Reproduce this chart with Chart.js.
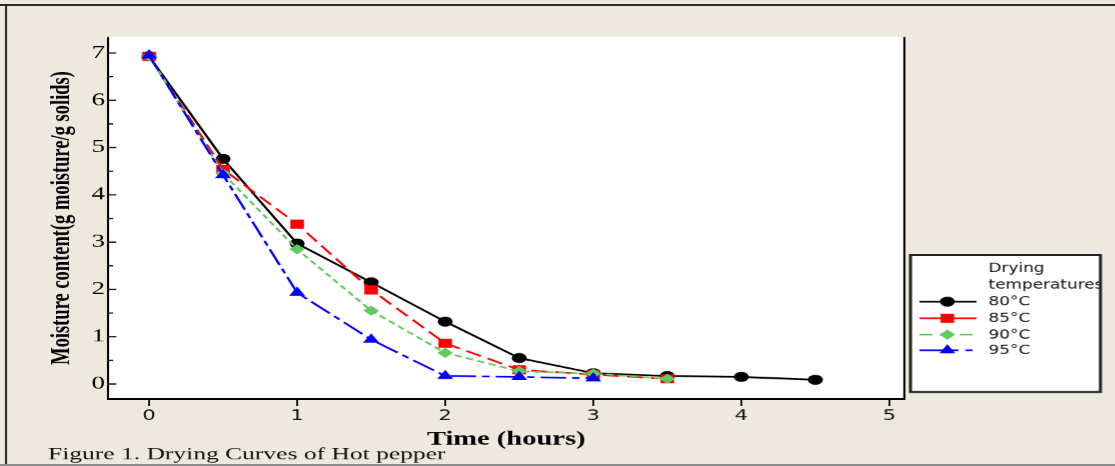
<!DOCTYPE html>
<html><head><meta charset="utf-8">
<script src="https://cdn.jsdelivr.net/npm/chart.js@4.4.1/dist/chart.umd.min.js"></script>
<style>
html,body{margin:0;padding:0;background:#EDE9DF;overflow:hidden;width:1115px;height:466px;}
#wrap{position:absolute;left:0;top:0;width:743.333px;height:466px;transform:scaleX(1.5);transform-origin:0 0;}
</style></head><body>
<div id="wrap"><canvas id="c"></canvas></div>
<script>
// ---- data ----
const times = [0, 0.5, 1, 1.5, 2, 2.5, 3, 3.5, 4, 4.5];
const seriesNames = ['80°C', '85°C', '90°C', '95°C'];
const mc80 = [6.93, 4.76, 2.97, 2.15, 1.32, 0.55, 0.23, 0.17, 0.15, 0.09];
const mc85 = [6.93, 4.54, 3.38, 1.99, 0.86, 0.30, 0.20, 0.11];
const mc90 = [6.93, 4.45, 2.85, 1.55, 0.66, 0.27, 0.22, 0.11];
const mc95 = [6.95, 4.42, 1.93, 0.94, 0.17, 0.15, 0.12];
const xTicks = [0, 1, 2, 3, 4, 5];
const yTicks = [0, 1, 2, 3, 4, 5, 6, 7];
const yMinorTicks = [0.5, 1.5, 2.5, 3.5, 4.5, 5.5, 6.5];
const legendTitle = ['Drying', 'temperatures'];
const captionText = 'Figure 1. Drying Curves of Hot pepper';
const xTitle = 'Time (hours)';
const yTitle = 'Moisture content(g moisture/g solids)';

// ---- styles ----
const styles = [
  {color:'#000000', style:'circle',   radius:5,   dash:[],          legendDash:[],                 order:4},
  {color:'#FF0000', style:'rect',     radius:6.4, dash:[11,5],      legendDash:[],                 order:3},
  {color:'#5FCB5F', style:'rectRot',  radius:5.2, dash:[5,3],       legendDash:[8.7,4.7],          order:2},
  {color:'#0000FF', style:'triangle', radius:6.2, dash:[17,4,5,4],  legendDash:[26,4.7,4.7,10],    order:1}
];
const seriesValues = [mc80, mc85, mc90, mc95];

const datasets = seriesValues.map((vals, k) => ({
  label: seriesNames[k],
  data: vals.map((v, i) => ({x: times[i], y: v})),
  showLine: true,
  borderColor: styles[k].color,
  backgroundColor: styles[k].color,
  borderWidth: 1.7,
  borderDash: styles[k].dash,
  pointStyle: styles[k].style,
  pointRadius: styles[k].radius,
  pointHoverRadius: styles[k].radius,
  pointBorderWidth: 0,
  pointBackgroundColor: styles[k].color,
  order: styles[k].order,
  tension: 0
}));

function line(ctx, x1, y1, x2, y2) { ctx.beginPath(); ctx.moveTo(x1, y1); ctx.lineTo(x2, y2); ctx.stroke(); }

function marker(ctx, st, x, y) {
  const r = st.radius;
  ctx.fillStyle = st.color;
  ctx.beginPath();
  if (st.style === 'circle') ctx.arc(x, y, r, 0, Math.PI * 2);
  else if (st.style === 'rect') { const s = r * Math.SQRT1_2; ctx.rect(x - s, y - s, 2 * s, 2 * s); }
  else if (st.style === 'rectRot') { ctx.moveTo(x, y - r); ctx.lineTo(x + r, y); ctx.lineTo(x, y + r); ctx.lineTo(x - r, y); ctx.closePath(); }
  else if (st.style === 'triangle') {
    ctx.moveTo(x, y - r); ctx.lineTo(x + r * Math.sin(Math.PI / 3), y + r / 2); ctx.lineTo(x - r * Math.sin(Math.PI / 3), y + r / 2); ctx.closePath();
  }
  ctx.fill();
}

const framePlugin = {
  id: 'frame',
  beforeDraw(chart) {
    const {ctx, chartArea: a, width, height} = chart;
    ctx.save();
    ctx.fillStyle = '#EDE9DF';
    ctx.fillRect(0, 0, width, height);
    ctx.fillStyle = '#FFFFFF';
    ctx.fillRect(a.left, a.top, a.right - a.left, a.bottom - a.top);
    ctx.strokeStyle = '#2a2a2a';
    ctx.lineWidth = 2;
    line(ctx, 0, 5, width, 5);
    ctx.lineWidth = 1.4;
    line(ctx, 4, 5, 4, height);
    ctx.strokeStyle = '#8a8a8a';
    ctx.lineWidth = 2;
    line(ctx, 0, 465, width, 465);
    ctx.restore();
  },
  afterDraw(chart) {
    const {ctx, chartArea: a} = chart;
    const xs = chart.scales.x, ys = chart.scales.y;
    ctx.save();
    ctx.strokeStyle = '#000';
    // axes lines
    ctx.lineWidth = 1.4;
    line(ctx, a.left, a.top, a.left, a.bottom + 1);
    line(ctx, a.right, a.top, a.right, a.bottom + 1);
    ctx.lineWidth = 2;
    line(ctx, a.left - 0.7, a.bottom, a.right + 0.7, a.bottom);
    // y ticks (inward)
    ctx.lineWidth = 1.2;
    yTicks.forEach(v => { const y = ys.getPixelForValue(v); line(ctx, a.left, y, a.left + 5.5, y); });
    yMinorTicks.forEach(v => { const y = ys.getPixelForValue(v); line(ctx, a.left, y, a.left + 3.4, y); });
    // x ticks (outward)
    xTicks.forEach(v => { const x = xs.getPixelForValue(v); line(ctx, x, a.bottom, x, a.bottom + 7); });

    // legend
    const lx1 = 606.7, lx2 = 733.3, ly1 = 255, ly2 = 392;
    ctx.fillStyle = '#fff';
    ctx.fillRect(lx1, ly1, lx2 - lx1, ly2 - ly1);
    ctx.save();
    ctx.beginPath(); ctx.rect(lx1, ly1, lx2 - lx1, ly2 - ly1); ctx.clip();
    ctx.font = '12.5px "DejaVu Sans Condensed", "DejaVu Sans"';
    ctx.fillStyle = '#111';
    ctx.textBaseline = 'middle';
    ctx.textAlign = 'left';
    const tx = 658.7;
    ctx.fillText(legendTitle[0], tx, 268.5);
    ctx.fillText(legendTitle[1], tx, 285.5);
    const rows = [301.7, 318.3, 334.7, 350.3];
    seriesNames.forEach((n, k) => {
      const y = rows[k], st = styles[k];
      ctx.strokeStyle = st.color;
      ctx.lineWidth = 1.6;
      ctx.setLineDash(st.legendDash);
      line(ctx, 612.7, y, 650.7, y);
      ctx.setLineDash([]);
      marker(ctx, st, 631.3, y);
      ctx.fillStyle = '#111';
      ctx.fillText(n, tx, y + 0.5);
    });
    ctx.restore();
    ctx.strokeStyle = '#222';
    ctx.lineWidth = 2;
    ctx.strokeRect(lx1, ly1, lx2 - lx1, ly2 - ly1);

    // caption
    ctx.fillStyle = '#111';
    ctx.font = '17px "Liberation Serif"';
    ctx.textAlign = 'left';
    ctx.textBaseline = 'alphabetic';
    ctx.fillText(captionText, 32, 459.5);
    ctx.restore();
  }
};

new Chart(document.getElementById('c'), {
  type: 'scatter',
  data: {datasets},
  options: {
    responsive: true,
    maintainAspectRatio: false,
    devicePixelRatio: 1.5,
    animation: false,
    events: [],
    layout: {padding: {top: 37, right: 140.67, left: 0, bottom: 0}},
    plugins: {legend: {display: false}, tooltip: {enabled: false}},
    scales: {
      x: {
        type: 'linear',
        min: -0.277, max: 5.101,
        afterBuildTicks: s => { s.ticks = xTicks.map(v => ({value: v})); },
        afterFit: s => { s.height = 67; },
        grid: {display: false, drawTicks: false},
        border: {display: false},
        ticks: {autoSkip: false, padding: 9, color: '#111', font: {family: '"DejaVu Sans"', size: 14}, maxRotation: 0},
        title: {display: true, text: xTitle, color: '#000', font: {family: '"Liberation Serif"', size: 19, weight: 'bold', lineHeight: 1.2}, padding: {top: 0, bottom: 14.6}}
      },
      y: {
        type: 'linear',
        min: -0.317, max: 7.338,
        afterBuildTicks: s => { s.ticks = yTicks.map(v => ({value: v})); },
        afterFit: s => { s.width = 72; },
        grid: {display: false, drawTicks: false},
        border: {display: false},
        ticks: {autoSkip: false, padding: 2, color: '#000', font: {family: '"Liberation Serif"', size: 18}},
        title: {display: true, text: yTitle, color: '#000', font: {family: '"Liberation Serif"', size: 18.5, weight: 'bold', lineHeight: 1.2}, padding: {top: 29.9, bottom: 0}}
      }
    }
  },
  plugins: [framePlugin]
});
</script>
</body></html>
